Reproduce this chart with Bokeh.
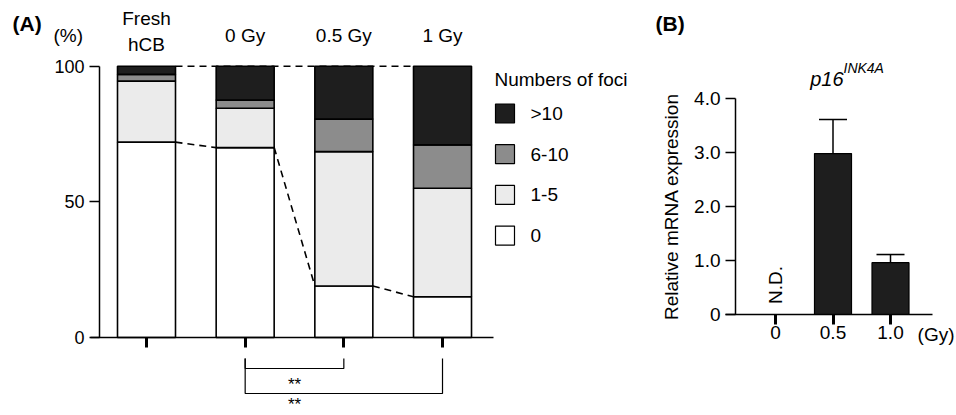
import math
from bokeh.plotting import figure
from bokeh.models import Range1d, FixedTicker, ColumnDataSource
from bokeh.layouts import row
from bokeh.embed import file_html
from bokeh.resources import INLINE
from bokeh.core.properties import value

# ---------------- data: panel A ----------------
groups = ["Fresh\nhCB", "0 Gy", "0.5 Gy", "1 Gy"]
foci_classes = ["0", "1-5", "6-10", ">10"]
foci_0 = [72, 70, 19, 15]
foci_1_5 = [22.5, 14.5, 49.5, 40]
foci_6_10 = [2.5, 3, 12, 16]
foci_gt10 = [3, 12.5, 19.5, 29]
foci_colors = ["#ffffff", "#ebebeb", "#8c8c8c", "#1e1e1e"]
y_ticks_A = [0, 50, 100]
comparisons = [(1, 2), (1, 3)]
sig_labels = ["**", "**"]
legend_title = "Numbers of foci"

# ---------------- data: panel B ----------------
doses_B = ["0", "0.5", "1.0"]
expr_mean = [float("nan"), 2.98, 0.96]
expr_err = [float("nan"), 0.63, 0.15]
y_ticks_B = [0, 1, 2, 3, 4]
y_tick_labels_B = ["0", "1.0", "2.0", "3.0", "4.0"]
nd_label = "N.D."
gene = "p16"
gene_sup = "INK4A"

FONT = value("Liberation Sans")
ORG = 0          # page offset of the canvas
H = 415
W_A = 646
W_B = 310

# ---------------- panel A ----------------
XA0, PXA = 146.0, 98.67
YA0, PYA = 337.0, 2.713
def ax(px):
    return (px - XA0) / PXA
def ay(py):
    return (YA0 - py) / PYA

pA = figure(width=W_A, height=H, x_range=Range1d(ax(ORG), ax(ORG + W_A)),
            y_range=Range1d(ay(ORG + H), ay(ORG)), output_backend="svg",
            toolbar_location=None, min_border=0, outline_line_color=None)
pA.grid.visible = False
BW = 58 / PXA

xs = list(range(len(groups)))
srcA = ColumnDataSource(dict(x=xs, c0=foci_0, c1=foci_1_5, c2=foci_6_10, c3=foci_gt10))
stack_cols = ["c0", "c1", "c2", "c3"]
totals = [a + b + c + d for a, b, c, d in zip(foci_0, foci_1_5, foci_6_10, foci_gt10)]

# dashed line at 100% behind bars
pA.segment(x0=[xs[0] + BW / 2], x1=[xs[-1] - BW / 2], y0=[totals[0]], y1=[totals[-1]],
           line_color="black", line_width=1.6, line_dash="7 5", level="underlay")

pA.vbar_stack(stack_cols, x="x", width=BW, fill_color=foci_colors, line_color="black",
              line_width=1.6, source=srcA)

# dashed connectors between tops of "0" segments
pA.segment(x0=[x + BW / 2 for x in xs[:-1]], x1=[x - BW / 2 for x in xs[1:]],
           y0=foci_0[:-1], y1=foci_0[1:], line_color="black", line_width=1.6,
           line_dash="7 5")

# axes
pA.yaxis.fixed_location = ax(99)
pA.yaxis.bounds = (0, 100)
pA.yaxis.ticker = FixedTicker(ticks=y_ticks_A)
pA.yaxis.minor_tick_line_color = None
pA.yaxis.major_tick_in = 0
pA.yaxis.major_tick_out = 10
pA.yaxis.major_tick_line_width = 1.5
pA.yaxis.axis_line_width = 1.5
pA.yaxis.major_label_standoff = 5
pA.yaxis.major_label_text_font_size = "18px"
pA.yaxis.major_label_text_font = "Liberation Sans"
pA.yaxis.major_label_text_color = "black"

pA.xaxis.fixed_location = 0
pA.xaxis.bounds = (ax(90), ax(493))
pA.xaxis.ticker = FixedTicker(ticks=xs)
pA.xaxis.minor_tick_line_color = None
pA.xaxis.major_tick_in = 0
pA.xaxis.major_tick_out = 10
pA.xaxis.major_tick_line_width = 3
pA.xaxis.axis_line_width = 1.5
pA.xaxis.major_label_text_color = None

# group headers
head_y = [ay(31) if "\n" in g else ay(35) for g in groups]
pA.text(x=xs, y=head_y, text=groups, text_align="center", text_baseline="middle",
        text_font=FONT, text_font_size="19px", text_line_height=1.25, text_color="black")
pA.text(x=[ax(12)], y=[ay(23)], text=["(A)"], text_align="left", text_baseline="middle",
        text_font=FONT, text_font_size="21px", text_font_style="bold", text_color="black")
pA.text(x=[ax(53)], y=[ay(35)], text=["(%)"], text_align="left", text_baseline="middle",
        text_font=FONT, text_font_size="19px", text_color="black")

# significance brackets
b_top = ay(358)
b_bottoms = [ay(368), ay(393)]
star_y = [ay(384), ay(404)]
pA.multi_line(xs=[[a, a, b, b] for a, b in comparisons],
              ys=[[b_top, bb, bb, b_top] for bb in b_bottoms],
              line_color="black", line_width=1.2)
star_x = (comparisons[0][0] + comparisons[0][1]) / 2
pA.text(x=[star_x] * len(sig_labels), y=star_y, text=sig_labels, text_align="center",
        text_baseline="middle", text_font=FONT, text_font_size="17px",
        text_color="black")

# legend
pA.text(x=[ax(494)], y=[ay(79)], text=[legend_title], text_align="left",
        text_baseline="middle", text_font=FONT, text_font_size="19px", text_color="black")
leg_order = list(range(len(foci_classes)))[::-1]
leg_y = [ay(113 + k * 40.7) for k in range(len(leg_order))]
pA.rect(x=[ax(504.5)] * len(leg_order), y=leg_y, width=19, height=19,
        width_units="screen", height_units="screen",
        fill_color=[foci_colors[i] for i in leg_order], line_color="black", line_width=1.2)
pA.text(x=[ax(530)] * len(leg_order), y=leg_y, text=[foci_classes[i] for i in leg_order],
        text_align="left", text_baseline="middle", text_font=FONT,
        text_font_size="19px", text_color="black")

# ---------------- panel B ----------------
XB0, PXB = 775.0, 57.5
YB0, PYB = 314.0, 54.0
LEFT_B = ORG + W_A
def bx(px):
    return (px - XB0) / PXB
def by(py):
    return (YB0 - py) / PYB

pB = figure(width=W_B, height=H, x_range=Range1d(bx(LEFT_B), bx(LEFT_B + W_B)),
            y_range=Range1d(by(ORG + H), by(ORG)), output_backend="svg",
            toolbar_location=None, min_border=0, outline_line_color=None)
pB.grid.visible = False
BWB = 37 / PXB
CAP = 28 / PXB

xb = list(range(len(doses_B)))
det = [i for i in xb if not math.isnan(expr_mean[i])]
nd = [i for i in xb if math.isnan(expr_mean[i])]
pB.vbar(x=det, top=[expr_mean[i] for i in det], width=BWB, fill_color="#1e1e1e",
        line_color="black", line_width=1.2)
tops = [expr_mean[i] + expr_err[i] for i in det]
pB.segment(x0=det, x1=det, y0=[expr_mean[i] for i in det], y1=tops,
           line_color="black", line_width=1.5)
pB.segment(x0=[i - CAP / 2 for i in det], x1=[i + CAP / 2 for i in det], y0=tops, y1=tops,
           line_color="black", line_width=1.5)

pB.yaxis.fixed_location = bx(735)
pB.yaxis.bounds = (y_ticks_B[0], y_ticks_B[-1])
pB.yaxis.ticker = FixedTicker(ticks=y_ticks_B)
pB.yaxis.major_label_overrides = {t: l for t, l in zip(y_ticks_B, y_tick_labels_B)}
pB.yaxis.minor_tick_line_color = None
pB.yaxis.major_tick_in = 0
pB.yaxis.major_tick_out = 10
pB.yaxis.major_tick_line_width = 1.5
pB.yaxis.axis_line_width = 1.5
pB.yaxis.major_label_standoff = 5
pB.yaxis.major_label_text_font_size = "19px"
pB.yaxis.major_label_text_font = "Liberation Sans"
pB.yaxis.major_label_text_color = "black"
pB.yaxis.axis_label = "Relative mRNA expression"
pB.yaxis.axis_label_text_font_size = "19px"
pB.yaxis.axis_label_text_font = "Liberation Sans"
pB.yaxis.axis_label_text_font_style = "normal"
pB.yaxis.axis_label_text_color = "black"
pB.yaxis.axis_label_standoff = 9

pB.xaxis.fixed_location = 0
pB.xaxis.bounds = (bx(725), bx(932))
pB.xaxis.ticker = FixedTicker(ticks=xb)
pB.xaxis.major_label_overrides = {i: d for i, d in zip(xb, doses_B)}
pB.xaxis.minor_tick_line_color = None
pB.xaxis.major_tick_in = 0
pB.xaxis.major_tick_out = 10
pB.xaxis.major_tick_line_width = 3
pB.xaxis.axis_line_width = 1.5
pB.xaxis.major_label_standoff = 1
pB.xaxis.major_label_text_font_size = "19px"
pB.xaxis.major_label_text_font = "Liberation Sans"
pB.xaxis.major_label_text_color = "black"

pB.text(x=[bx(954)], y=[by(334)], text=["(Gy)"], text_align="right", text_baseline="middle",
        text_font=FONT, text_font_size="19px", text_color="black")
pB.text(x=[bx(655)], y=[by(23)], text=["(B)"], text_align="left", text_baseline="middle",
        text_font=FONT, text_font_size="21px", text_font_style="bold", text_color="black")
pB.text(x=nd, y=[by(284.5)] * len(nd), text=[nd_label] * len(nd), angle=math.pi / 2,
        text_align="center", text_baseline="middle", text_font=FONT,
        text_font_size="19px", text_color="black")
pB.text(x=[bx(843)], y=[by(78)], text=[gene], text_align="right", text_baseline="alphabetic",
        text_font=FONT, text_font_size="20px", text_font_style="italic", text_color="black")
pB.text(x=[bx(843)], y=[by(67)], text=[gene_sup], text_align="left",
        text_baseline="alphabetic", text_font=FONT, text_font_size="14px",
        text_font_style="italic", text_color="black")

layout = row(pA, pB)
open("out.html", "w").write(file_html(layout, INLINE))
